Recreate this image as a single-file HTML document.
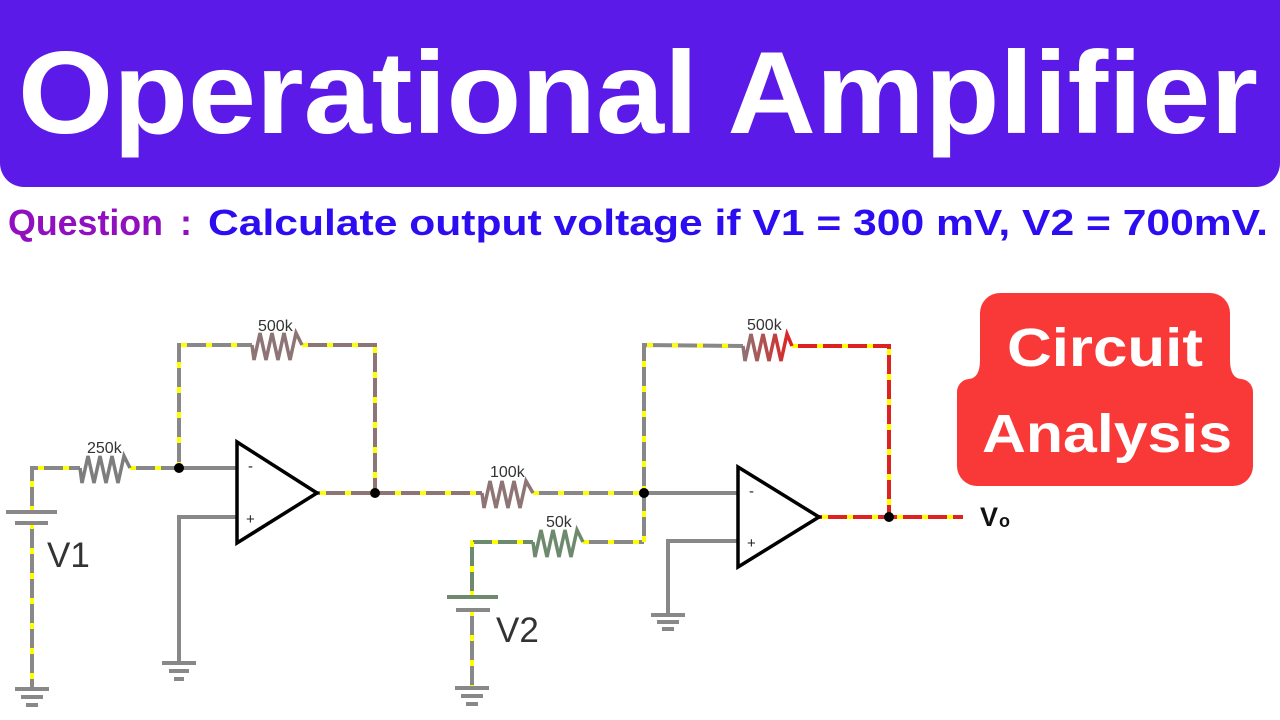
<!DOCTYPE html>
<html>
<head>
<meta charset="utf-8">
<style>
html,body{margin:0;padding:0;background:#fff;}
svg{display:block;}
</style>
</head>
<body>
<svg width="1280" height="720" viewBox="0 0 1280 720" xmlns="http://www.w3.org/2000/svg">
<defs>
<linearGradient id="rg" x1="0" y1="0" x2="1" y2="0">
<stop offset="0" stop-color="#8e7474"/>
<stop offset="1" stop-color="#e02020"/>
</linearGradient>
</defs>
<rect x="0" y="0" width="1280" height="720" fill="#ffffff"/>
<!-- Banner -->
<rect x="0" y="-40" width="1280" height="227" rx="24" ry="24" fill="#5b1ae8"/>
<text x="18" y="133" font-family="Liberation Sans, sans-serif" font-weight="bold" font-size="117" fill="#ffffff" textLength="1240" lengthAdjust="spacingAndGlyphs">Operational Amplifier</text>

<!-- Question line -->
<text x="8" y="235" font-family="Liberation Sans, sans-serif" font-weight="bold" font-size="36" fill="#9010c0" textLength="155" lengthAdjust="spacingAndGlyphs">Question</text>
<text x="180" y="235" font-family="Liberation Sans, sans-serif" font-weight="bold" font-size="36" fill="#9010c0">:</text>
<text x="208" y="235" font-family="Liberation Sans, sans-serif" font-weight="bold" font-size="36" fill="#2c0cf0" textLength="1060" lengthAdjust="spacingAndGlyphs">Calculate output voltage if V1 = 300 mV, V2 = 700mV.</text>

<!-- Red box -->
<path d="M1000 293 H1210 A20 20 0 0 1 1230 313 V360 Q1230 378 1241 379 A13 13 0 0 1 1253 392 V466 A20 20 0 0 1 1233 486 H977 A20 20 0 0 1 957 466 V392 A13 13 0 0 1 969 379 Q980 378 980 360 V313 A20 20 0 0 1 1000 293 Z" fill="#f93838"/>
<text x="1007" y="366" font-family="Liberation Sans, sans-serif" font-weight="bold" font-size="54" fill="#ffffff" textLength="196" lengthAdjust="spacingAndGlyphs">Circuit</text>
<text x="982" y="452" font-family="Liberation Sans, sans-serif" font-weight="bold" font-size="54" fill="#ffffff" textLength="250" lengthAdjust="spacingAndGlyphs">Analysis</text>

<!-- Wires -->
<g fill="none" stroke-width="4" stroke-linejoin="miter" stroke-linecap="butt">
  <!-- gray with yellow -->
  <g stroke="#888888">
    <polyline points="32,512 32,468 80,468"/>
    <polyline points="32,523 32,689"/>
    <polyline points="130,468 179,468"/>
    <polyline points="179,468 179,345 252,345"/>
    <polyline points="533,493 644,493"/>
    <polyline points="644,542 644,345 743,346"/>
    <polyline points="583,542 644,542"/>
    <polyline points="472,610 472,688"/>
    <!-- solid gray -->
    <polyline points="179,468 237,468"/>
    <polyline points="237,517 179,517 179,663"/>
    <polyline points="644,493 738,493"/>
    <polyline points="738,541 668,541 668,615"/>
  </g>
  <g stroke="#8e7474">
    <polyline points="302,345 375,345 375,493"/>
    <polyline points="317,493 482,493"/>
  </g>
  <g stroke="#6e8a6e">
    <polyline points="472,597 472,542 533,542"/>
  </g>
  <g stroke="#dd2222">
    <polyline points="792,346 889,346 889,517"/>
    <polyline points="819,517 963,517"/>
  </g>
  <!-- yellow dashes -->
  <g stroke="#ffff00" stroke-dasharray="6 19">
    <polyline points="32,512 32,468 80,468"/>
    <polyline points="32,523 32,689"/>
    <polyline points="130,468 179,468"/>
    <polyline points="179,468 179,345 252,345"/>
    <polyline points="533,493 644,493"/>
    <polyline points="644,542 644,345 743,346"/>
    <polyline points="583,542 644,542"/>
    <polyline points="472,610 472,688"/>
    <polyline points="302,345 375,345 375,493"/>
    <polyline points="320,493 482,493"/>
    <polyline points="472,597 472,542 533,542"/>
    <polyline points="792,346 889,346 889,517"/>
    <polyline points="822,517 963,517"/>
  </g>
</g>

<!-- Resistors -->
<g fill="none" stroke-width="3.5" stroke-linejoin="miter">
  <polyline stroke="#7d7d7d" points="80,468 82,483 88,456 94,483 100,456 106,483 112,456 118,483 124,456 130,468"/>
  <polyline stroke="#8e7474" points="252,345 254,360 260,333 266,360 272,333 278,360 284,333 290,360 296,333 302,345"/>
  <polyline stroke="#8e7474" points="482,493 484,508 490,481 496,508 502,481 508,508 514,481 520,508 526,481 533,493"/>
  <polyline stroke="#6e8a6e" points="533,542 535,557 541,530 547,557 553,530 559,557 565,530 571,557 577,530 583,542"/>
  <polyline stroke="url(#rg)" points="743,346 745,361 751,334 757,361 763,334 769,361 775,334 781,361 787,334 792,346"/>
</g>

<!-- Resistor labels -->
<g font-family="Liberation Sans, sans-serif" font-size="16" fill="#333333">
  <text x="87" y="453">250k</text>
  <text x="258" y="331">500k</text>
  <text x="490" y="477">100k</text>
  <text x="546" y="527">50k</text>
  <text x="747" y="330">500k</text>
</g>

<!-- Op amps -->
<polygon points="237,442 237,543 317,493" fill="#ffffff" stroke="#000000" stroke-width="3.5" stroke-linejoin="miter"/>
<polygon points="738,467 738,567 819,517" fill="#ffffff" stroke="#000000" stroke-width="3.5" stroke-linejoin="miter"/>
<g font-family="Liberation Sans, sans-serif" font-size="15" fill="#222222">
  <text x="248" y="471">-</text>
  <text x="246" y="524">+</text>
  <text x="749" y="496">-</text>
  <text x="747" y="548">+</text>
</g>

<!-- Junction dots -->
<g fill="#000000">
  <circle cx="179" cy="468" r="5"/>
  <circle cx="375" cy="493" r="5"/>
  <circle cx="644" cy="493" r="5"/>
  <circle cx="889" cy="517" r="5"/>
</g>

<!-- Batteries -->
<g stroke-width="4" fill="none">
  <line x1="6" y1="512" x2="57" y2="512" stroke="#888888"/>
  <line x1="15" y1="523" x2="48" y2="523" stroke="#888888"/>
  <line x1="447" y1="597" x2="498" y2="597" stroke="#6e8a6e"/>
  <line x1="456" y1="610" x2="490" y2="610" stroke="#888888"/>
</g>

<!-- Grounds -->
<g stroke="#888888" stroke-width="4" fill="none">
  <line x1="15" y1="689" x2="49" y2="689"/>
  <line x1="21" y1="697" x2="43" y2="697"/>
  <line x1="26" y1="705" x2="38" y2="705"/>

  <line x1="162" y1="663" x2="196" y2="663"/>
  <line x1="169" y1="671" x2="189" y2="671"/>
  <line x1="174" y1="679" x2="184" y2="679"/>

  <line x1="455" y1="688" x2="489" y2="688"/>
  <line x1="461" y1="696" x2="483" y2="696"/>
  <line x1="466" y1="704" x2="478" y2="704"/>

  <line x1="651" y1="615" x2="685" y2="615"/>
  <line x1="657" y1="622" x2="679" y2="622"/>
  <line x1="662" y1="629" x2="674" y2="629"/>
</g>

<!-- Source labels -->
<g font-family="Liberation Sans, sans-serif" font-size="35" fill="#333333">
  <text x="47" y="567">V1</text>
  <text x="496" y="642">V2</text>
</g>
<text x="980" y="526" font-family="Liberation Sans, sans-serif" font-weight="bold" font-size="27" fill="#111111">V</text>
<text x="999" y="527" font-family="Liberation Sans, sans-serif" font-weight="bold" font-size="18" fill="#111111">o</text>
</svg>
</body>
</html>
